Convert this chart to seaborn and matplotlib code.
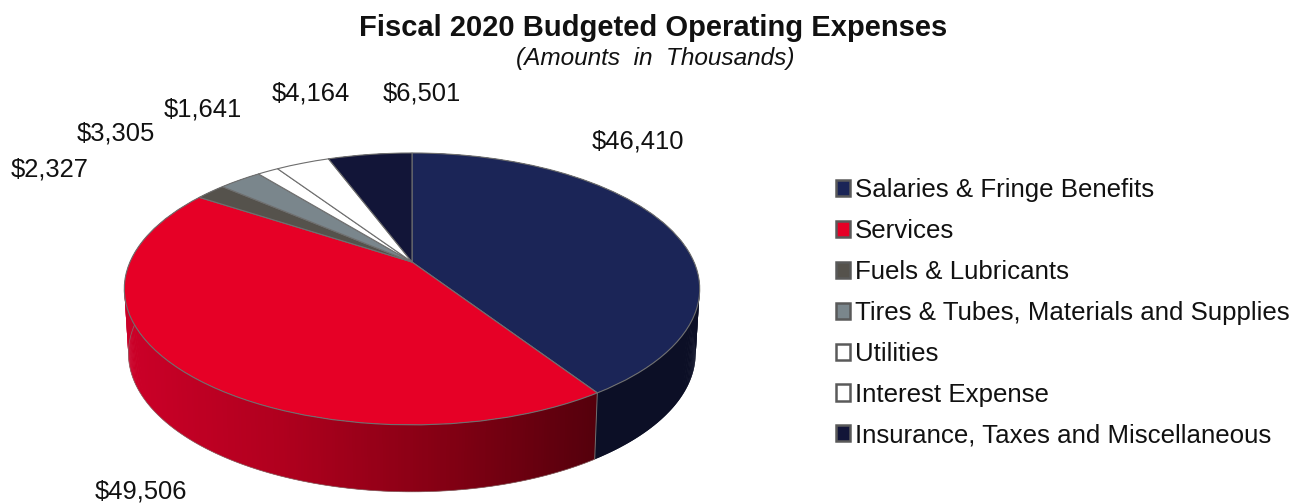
import numpy as np
import matplotlib
matplotlib.use("Agg")
import matplotlib.pyplot as plt
from matplotlib.patches import Patch
from matplotlib.transforms import Transform
import seaborn as sns

categories = ["Salaries & Fringe Benefits", "Services", "Fuels & Lubricants",
              "Tires & Tubes, Materials and Supplies", "Utilities",
              "Interest Expense", "Insurance, Taxes and Miscellaneous"]
values = [46410, 49506, 2327, 3305, 1641, 4164, 6501]
value_labels = ["$46,410", "$49,506", "$2,327", "$3,305", "$1,641", "$4,164", "$6,501"]
top_colors = ["#1b2557", "#e60026", "#55524c", "#7a868c", "#ffffff", "#ffffff", "#121538"]
wall_colors = ["#0c0f26", None, "#2a2926", "#3d4346", "#cccccc", "#cccccc", "#090a1c"]

# label centres in figure pixels
label_x = [638, 141, 50, 116, 203, 311, 422]
label_y = [142, 491, 170, 133, 110, 94, 93]

sns.set_theme(style="white")
plt.rcParams["font.family"] = ["Liberation Sans", "DejaVu Sans"]
palette = sns.color_palette(top_colors)
red_ramp = sns.blend_palette(["#cc0028", "#b0001e", "#860014", "#55000c"], n_colors=256)

# Perspective of the pie disc onto the page
CX, CY, RX, RY, K = 412, 262, 282, 130.6, 0.198
BX, BY, BRY = 278, 326, 133


def project(u, v, rx=RX, cy=CY, ry=RY):
    w = 1 + K * v
    return CX + rx * u / w, cy - ry * v / w


class Perspective(Transform):
    input_dims = 2
    output_dims = 2
    is_separable = False
    has_inverse = False

    def transform_non_affine(self, xy):
        xy = np.asarray(xy, dtype=float)
        x, y = project(xy[:, 0], xy[:, 1])
        return np.column_stack([x, y])


fig = plt.figure(figsize=(13.08, 5.04), dpi=100, facecolor="white")
ax = fig.add_axes([0, 0, 1, 1])
wedges, _ = ax.pie(values, colors=palette, startangle=90, counterclock=False,
                   wedgeprops=dict(edgecolor="#6f6f6f", linewidth=0.8))
ax.set_aspect("auto")
ax.set_xlim(0, 1308)
ax.set_ylim(504, 0)
ax.axis("off")

persp = Perspective() + ax.transData
for w in wedges:
    w.set_transform(persp)
    w.set_zorder(3)

# Side walls follow the angles of the wedges; strips overlap so no seams show
for w, wall in zip(wedges, wall_colors):
    t = np.radians(np.linspace(w.theta1, w.theta2, int(abs(w.theta2 - w.theta1)) * 2 + 2))
    u, v = np.cos(t), np.sin(t)
    xt, yt = project(u, v)
    xb, yb = project(u, v, rx=BX, cy=BY, ry=BRY)
    for i in np.argsort(xt):
        if wall is None:
            f = np.clip((xt[i] - 123) / (596 - 123), 0, 1)
            col = red_ramp[int(f * 255)]
        else:
            col = wall
        j0, j1 = max(i - 1, 0), min(i + 1, len(t) - 1)
        ax.fill([xt[j0], xt[j1], xb[j1], xb[j0]],
                [yt[j0], yt[j1], yb[j1], yb[j0]],
                facecolor=col, edgecolor="none", zorder=1)
    if wall is None:
        ax.plot(xb, yb, color="#8a6a6a", lw=0.5, zorder=2)
    # joint between neighbouring walls
    ax.plot([xt[0], xb[0]], [yt[0], yb[0]], color="#6f6f6f", lw=0.7, zorder=2)

for s, x, y in zip(value_labels, label_x, label_y):
    ax.text(x, y, s, ha="center", va="center", fontsize=18.4, color="#111111")

ax.text(653, 28, "Fiscal 2020 Budgeted Operating Expenses", ha="center", va="center",
        fontsize=21, fontweight="bold", color="#111111")
ax.text(655, 58.5, "(Amounts  in  Thousands)", ha="center", va="center",
        fontsize=17.6, fontstyle="italic", color="#111111")

handles = [Patch(facecolor=c, edgecolor="#5a5a5a", linewidth=1.8) for c in palette]
ax.legend(handles, categories, loc="upper left", bbox_to_anchor=(835.5 / 1308, 1 - 178 / 504),
          bbox_transform=fig.transFigure, frameon=False, fontsize=18.6,
          handlelength=0.58, handleheight=0.58, handletextpad=0.16,
          labelspacing=0.655, borderpad=0, borderaxespad=0, labelcolor="#111111")

fig.savefig("out.png", dpi=100, facecolor="white")
